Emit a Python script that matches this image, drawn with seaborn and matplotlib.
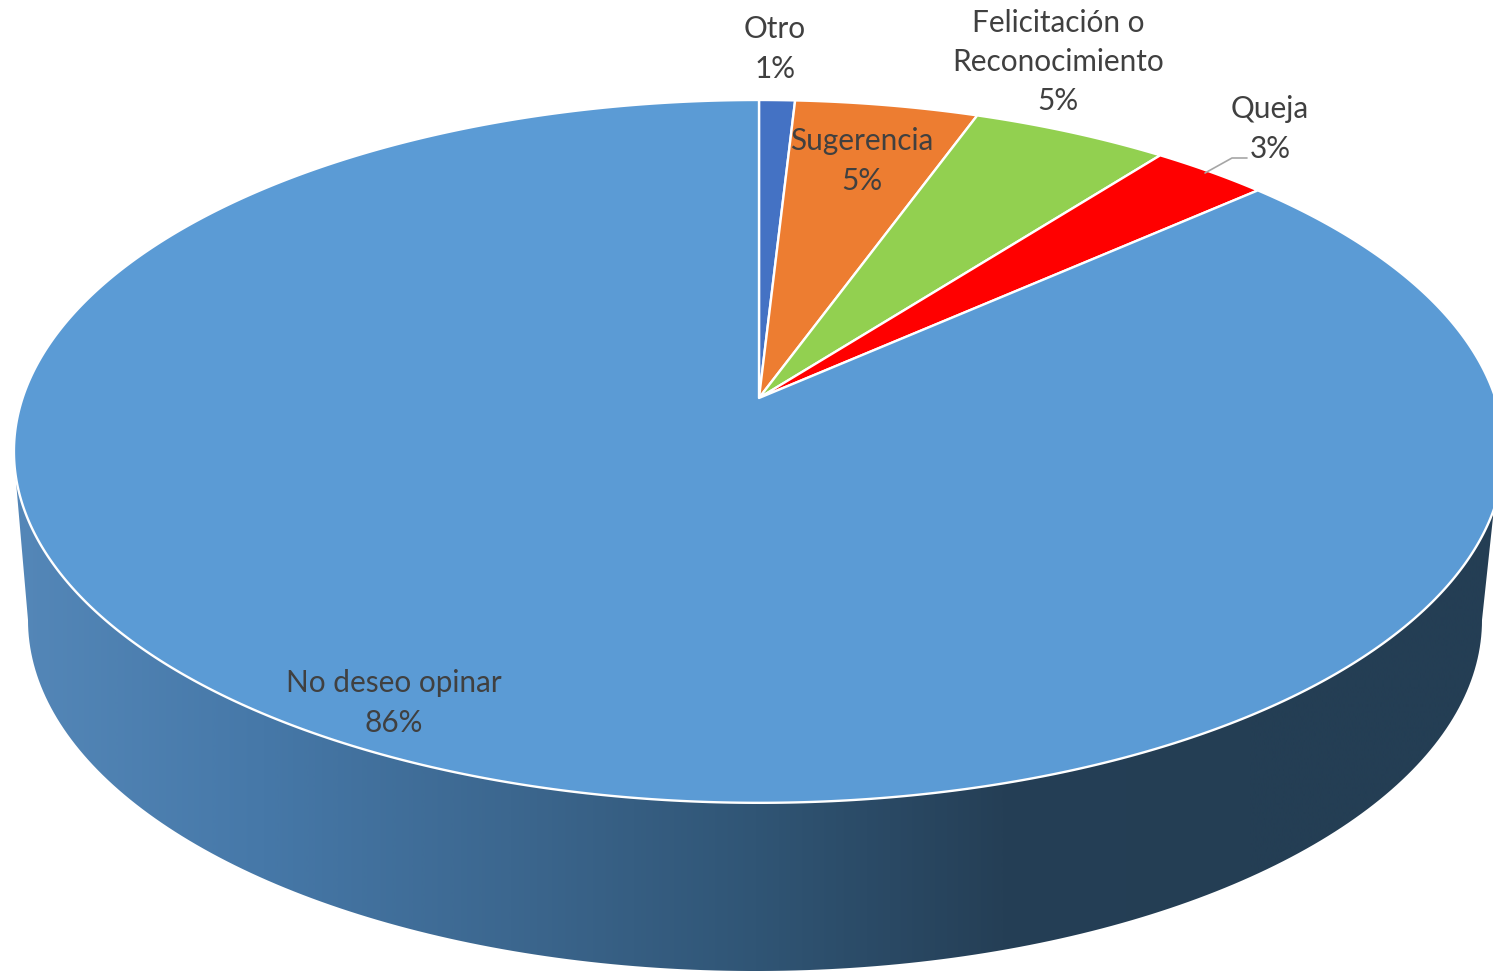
import numpy as np
import matplotlib
matplotlib.use("Agg")
import matplotlib.pyplot as plt
from matplotlib.colors import LinearSegmentedColormap
from matplotlib.patches import Polygon
import seaborn as sns

# ---- data ----
categories = ["Otro", "Sugerencia", "Felicitación o\nReconocimiento", "Queja", "No deseo opinar"]
values = [0.9, 4.6, 4.95, 2.95, 86.6]          # slice sizes as drawn
percent_labels = ["1%", "5%", "5%", "3%", "86%"]
slice_colors = ["#4472C4", "#ED7D31", "#92D050", "#FF0000", "#5B9BD5"]
wall_colors = ["#5487B8", "#4678A8", "#3C678F", "#305575", "#253F56", "#243E54", "#243E54"]

# ---- layout (pixel space of the 1493x971 canvas) ----
W, H = 1493, 971
APEX_X, APEX_Y = 759.0, 398.0   # pie centre as seen in perspective
R_X, R_Y, PERSP = 736.4, 282.8, -0.152
WALL_CX, WALL_CY, WALL_RX, WALL_RY = 755.0, 620.0, 727.0, 351.0
label_xy = [(775, 49), (862, 161), (1058, 62), (1270, 129), (394, 703)]

sns.set_theme(style="white")
plt.rcParams["font.family"] = ["Lato", "DejaVu Sans"]
palette = sns.color_palette(slice_colors)


def project(theta):
    """Clockwise angle from 12 o'clock -> canvas pixel on the tilted top face."""
    u, v = np.sin(theta), -np.cos(theta)
    d = 1 + PERSP * v
    return APEX_X + R_X * u / d, (APEX_Y + R_Y * v) / d


fig = plt.figure(figsize=(W / 100, H / 100), dpi=100)
ax = fig.add_axes([0, 0, 1, 1])
ax.set_xlim(0, W)
ax.set_ylim(H, 0)
ax.axis("off")

# side wall: gradient clipped to the outline of the lower rim
phi = np.linspace(np.pi, 0, 200)
lower = np.column_stack([WALL_CX + WALL_RX * np.cos(phi), WALL_CY + WALL_RY * np.sin(phi)])
outline = np.vstack([[[15, 470]], lower, [[1497, 480]], [[759, 400]]])
wall = Polygon(outline, closed=True, transform=ax.transData, facecolor="none", edgecolor="none")
ax.add_patch(wall)
cmap = LinearSegmentedColormap.from_list("wall", wall_colors)
grad = np.linspace(0, 1, 512).reshape(1, -1)
img = ax.imshow(grad, cmap=cmap, extent=[15, 1497, H, 400], aspect="auto", zorder=1, interpolation="bilinear")
img.set_clip_path(wall)
ax.set_xlim(0, W)
ax.set_ylim(H, 0)

# top face slices, clockwise from 12 o'clock
edges = np.concatenate([[0], np.cumsum(values)]) / np.sum(values) * 2 * np.pi
for a0, a1, col in zip(edges[:-1], edges[1:], palette):
    th = np.linspace(a0, a1, max(int((a1 - a0) * 120), 4))
    x, y = project(th)
    pts = np.column_stack([np.r_[APEX_X, x], np.r_[APEX_Y, y]])
    ax.add_patch(Polygon(pts, closed=True, facecolor=col, edgecolor="white",
                         linewidth=1.7, joinstyle="round", zorder=2))

# labels
for name, pct, (lx, ly) in zip(categories, percent_labels, label_xy):
    ax.text(lx, ly, f"{name}\n{pct}", ha="center", va="center", fontsize=21.4,
            color="#404040", linespacing=1.5, zorder=4)

# leader line for Queja
ax.plot([1205, 1232, 1247], [173, 158, 158], color="#A6A6A6", lw=1.2, zorder=3)

fig.savefig("out.png", dpi=100)
